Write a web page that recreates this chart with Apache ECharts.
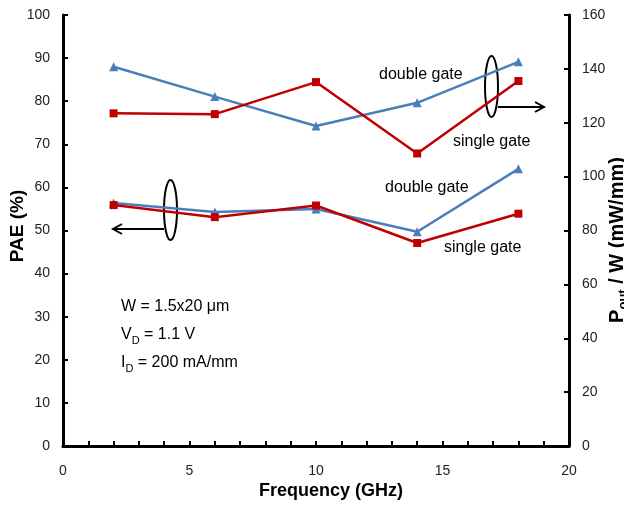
<!DOCTYPE html>
<html>
<head>
<meta charset="utf-8">
<script src="https://cdn.jsdelivr.net/npm/echarts@6/dist/echarts.min.js"></script>
<style>
  html, body { margin: 0; padding: 0; background: #fff; }
  #main { width: 624px; height: 506px; }
</style>
</head>
<body>
<div id="main"></div>
<script>
// frequency points (GHz)
var freq = [2, 6, 10, 14, 18];
// Pout / W (mW/mm) -> right axis
var poutDouble = [140.8, 129.7, 118.8, 127.4, 142.6];
var poutSingle = [123.5, 123.2, 135.1, 108.6, 135.5];
// PAE (%) -> left axis
var paeDouble = [56.4, 54.3, 55.0, 49.7, 64.3];
var paeSingle = [55.9, 53.1, 55.8, 47.1, 53.9];

function pairs(xs, ys) {
  return xs.map(function (x, i) { return [x, ys[i]]; });
}

var FONT = 'Arial, "Liberation Sans", sans-serif';
var BLUE = '#4a7ebb';
var RED = '#c00000';

var chart = echarts.init(document.getElementById('main'));

var axisCommon = {
  axisLine: { show: true, lineStyle: { color: '#000', width: 3 } },
  axisTick: { show: true, inside: true, length: 5, lineStyle: { color: '#000', width: 2 } },
  splitLine: { show: false },
  axisLabel: { color: '#222', fontSize: 14, fontFamily: FONT }
};

var option = {
  animation: false,
  backgroundColor: '#fff',
  grid: { left: 63, top: 15, width: 506, height: 431 },
  xAxis: Object.assign({}, axisCommon, {
    type: 'value', min: 0, max: 20, interval: 1,
    axisLabel: Object.assign({}, axisCommon.axisLabel, {
      margin: 18,
      formatter: function (v) { return v % 5 === 0 ? v : ''; }
    })
  }),
  yAxis: [
    Object.assign({}, axisCommon, {
      type: 'value', min: 0, max: 100, interval: 10, position: 'left',
      axisLabel: Object.assign({}, axisCommon.axisLabel, { margin: 13 })
    }),
    Object.assign({}, axisCommon, {
      type: 'value', min: 0, max: 160, interval: 20, position: 'right',
      axisLabel: Object.assign({}, axisCommon.axisLabel, { margin: 13 })
    })
  ],
  series: [
    {
      name: 'double gate Pout', type: 'line', yAxisIndex: 1,
      data: pairs(freq, poutDouble),
      symbol: 'triangle', symbolSize: 9,
      lineStyle: { color: BLUE, width: 2.5 }, itemStyle: { color: BLUE }
    },
    {
      name: 'single gate Pout', type: 'line', yAxisIndex: 1,
      data: pairs(freq, poutSingle),
      symbol: 'rect', symbolSize: 8,
      lineStyle: { color: RED, width: 2.5 }, itemStyle: { color: RED }
    },
    {
      name: 'double gate PAE', type: 'line', yAxisIndex: 0,
      data: pairs(freq, paeDouble),
      symbol: 'triangle', symbolSize: 9,
      lineStyle: { color: BLUE, width: 2.5 }, itemStyle: { color: BLUE }
    },
    {
      name: 'single gate PAE', type: 'line', yAxisIndex: 0,
      data: pairs(freq, paeSingle),
      symbol: 'rect', symbolSize: 8,
      lineStyle: { color: RED, width: 2.5 }, itemStyle: { color: RED }
    }
  ],
  graphic: [
    // axis titles
    {
      type: 'text', x: 18, y: 226, rotation: Math.PI / 2,
      style: { text: 'PAE (%)', font: 'bold 19px ' + FONT, fill: '#000', align: 'center', verticalAlign: 'middle' }
    },
    {
      type: 'text', x: 331, y: 491,
      style: { text: 'Frequency (GHz)', font: 'bold 18px ' + FONT, fill: '#000', align: 'center', verticalAlign: 'middle' }
    },
    {
      type: 'text', x: 617, y: 240, rotation: Math.PI / 2,
      style: {
        text: '{m|P}{s|out}{m| / W (mW/mm)}', align: 'center', verticalAlign: 'middle',
        rich: {
          m: { font: 'bold 20px ' + FONT, fill: '#000', lineHeight: 26 },
          s: { font: 'bold 13px ' + FONT, fill: '#000', verticalAlign: 'bottom', lineHeight: 14 }
        }
      }
    },
    // curve labels
    { type: 'text', x: 379, y: 75, style: { text: 'double gate', font: '16px ' + FONT, fill: '#000', verticalAlign: 'middle' } },
    { type: 'text', x: 453, y: 142, style: { text: 'single gate', font: '16px ' + FONT, fill: '#000', verticalAlign: 'middle' } },
    { type: 'text', x: 385, y: 188, style: { text: 'double gate', font: '16px ' + FONT, fill: '#000', verticalAlign: 'middle' } },
    { type: 'text', x: 444, y: 248, style: { text: 'single gate', font: '16px ' + FONT, fill: '#000', verticalAlign: 'middle' } },
    // device conditions
    { type: 'text', x: 121, y: 307, style: { text: 'W = 1.5x20 \u03bcm', font: '16px ' + FONT, fill: '#000', verticalAlign: 'middle' } },
    {
      type: 'text', x: 121, y: 335,
      style: {
        text: '{m|V}{s|D}{m| = 1.1 V}', verticalAlign: 'middle',
        rich: {
          m: { font: '16px ' + FONT, fill: '#000', lineHeight: 22 },
          s: { font: '11px ' + FONT, fill: '#000', verticalAlign: 'bottom', lineHeight: 12 }
        }
      }
    },
    {
      type: 'text', x: 121, y: 363,
      style: {
        text: '{m|I}{s|D}{m| = 200 mA/mm}', verticalAlign: 'middle',
        rich: {
          m: { font: '16px ' + FONT, fill: '#000', lineHeight: 22 },
          s: { font: '11px ' + FONT, fill: '#000', verticalAlign: 'bottom', lineHeight: 12 }
        }
      }
    },
    // ellipse + arrow marking right-axis curves
    { type: 'ellipse', shape: { cx: 491.5, cy: 86.5, rx: 6.5, ry: 30.5 }, style: { fill: 'none', stroke: '#000', lineWidth: 2 } },
    { type: 'line', shape: { x1: 498, y1: 107, x2: 543, y2: 107 }, style: { stroke: '#000', lineWidth: 2 } },
    { type: 'polyline', shape: { points: [[535, 102], [544, 107], [535, 112]] }, style: { fill: 'none', stroke: '#000', lineWidth: 2 } },
    // ellipse + arrow marking left-axis curves
    { type: 'ellipse', shape: { cx: 170.5, cy: 210, rx: 6.5, ry: 30 }, style: { fill: 'none', stroke: '#000', lineWidth: 2 } },
    { type: 'line', shape: { x1: 164, y1: 229, x2: 114, y2: 229 }, style: { stroke: '#000', lineWidth: 2 } },
    { type: 'polyline', shape: { points: [[122, 224], [113, 229], [122, 234]] }, style: { fill: 'none', stroke: '#000', lineWidth: 2 } }
  ]
};

chart.setOption(option);
</script>
</body>
</html>
